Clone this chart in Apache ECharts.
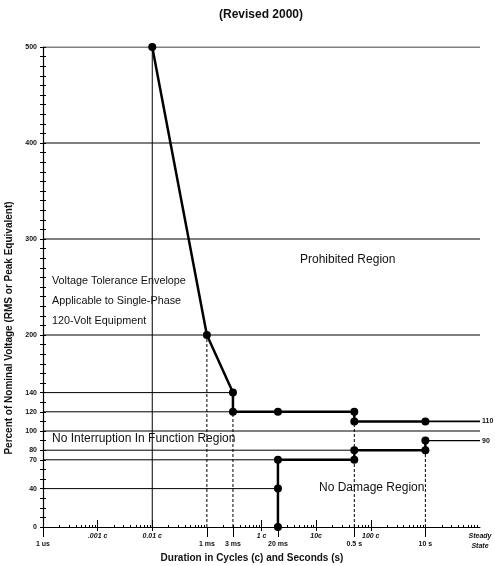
<!DOCTYPE html>
<html>
<head>
<meta charset="utf-8">
<script src="https://cdn.jsdelivr.net/npm/echarts@6/dist/echarts.min.js"></script>
<style>
  html, body { margin: 0; padding: 0; background: #fff; }
  #chart { width: 495px; height: 566px; }
</style>
</head>
<body>
<div id="chart"></div>
<script>
// ITIC voltage tolerance envelope; durations are in seconds, voltages in % of nominal.
const upperT = [1e-4, 1e-3, 3e-3, 3e-3, 0.02, 0.5, 0.5, 10];
const upperV = [500, 200, 140, 120, 120, 120, 110, 110];
const lowerT = [0.02, 0.02, 0.02, 0.5, 0.5, 10, 10];
const lowerV = [0, 40, 70, 70, 80, 80, 90];
const steadyT = 100;
const upperSteady = 110;
const lowerSteady = 90;

// Horizontal reference levels and how far right each one runs
const levelValues = [500, 400, 300, 200, 140, 120, 100, 80, 70, 40];
const levelEnds = [100, 100, 100, 100, 3e-3, 0.5, 100, 10, 0.5, 0.02];
const yTickLabels = [500, 400, 300, 200, 140, 120, 100, 80, 70, 40, 0];

// Vertical drop lines
const solidDropT = 1e-4;
const solidDropTop = 500;
const dashedDropT = [1e-3, 3e-3, 0.5, 10];
const dashedDropTop = [200, 120, 120, 90];

// Axis tick labels
const cycleTicks = [1e-5, 1e-4, 1e-2, 1e-1, 1];
const cycleLabels = ['.001 c', '0.01 c', '1 c', '10c', '100 c'];
const timeTicks = [1e-6, 1e-3, 3e-3, 0.02, 0.5, 10];
const timeLabels = ['1 us', '1 ms', '3 ms', '20 ms', '0.5 s', '10 s'];
const steadyLabel = 'Steady\nState';

const X_MIN = 1e-6, X_MAX = 100;
const INK = '#000';
const FONT = 'Liberation Sans, Arial, sans-serif';

// small log-spaced ticks inside each decade
const minorTicks = [];
for (let e = -6; e < 2; e++) {
  for (let m = 2; m <= 9; m++) minorTicks.push(m * Math.pow(10, e));
}

const zip = (a, b) => a.map((v, i) => [v, b[i]]);

const baseX = {
  type: 'log', logBase: 10, min: X_MIN, max: X_MAX, position: 'bottom',
  gridIndex: 0, splitLine: { show: false }, minorSplitLine: { show: false }
};

const xAxes = [
  Object.assign({}, baseX, {
    axisLine: { show: true, onZero: false, lineStyle: { color: INK, width: 1 } },
    axisTick: { show: true, inside: true, length: 2, customValues: minorTicks, lineStyle: { color: INK } },
    axisLabel: { show: false }
  }),
  Object.assign({}, baseX, {
    axisLine: { show: false },
    axisTick: { show: true, inside: true, length: 7, customValues: cycleTicks, lineStyle: { color: INK } },
    axisLabel: {
      show: true, customValues: cycleTicks.concat([steadyT]), margin: 4,
      fontFamily: FONT, fontSize: 7, fontWeight: 'bold', fontStyle: 'italic', color: '#111', lineHeight: 10,
      formatter: v => {
        if (Math.abs(v - steadyT) / steadyT < 1e-6) return steadyLabel;
        const i = cycleTicks.findIndex(c => Math.abs(v - c) / c < 1e-6);
        return i >= 0 ? cycleLabels[i] : '';
      }
    }
  }),
  Object.assign({}, baseX, {
    axisLine: { show: false },
    axisTick: { show: true, inside: false, length: 4, customValues: cycleTicks, lineStyle: { color: INK } },
    axisLabel: { show: false }
  }),
  Object.assign({}, baseX, {
    axisLine: { show: false },
    axisTick: { show: true, inside: false, length: 10, customValues: timeTicks, lineStyle: { color: INK } },
    axisLabel: {
      show: true, customValues: timeTicks, margin: 14,
      fontFamily: FONT, fontSize: 7, fontWeight: 'bold', color: '#111',
      formatter: v => {
        const i = timeTicks.findIndex(c => Math.abs(v - c) / c < 1e-6);
        return i >= 0 ? timeLabels[i] : '';
      }
    }
  })
];

const baseY = {
  type: 'value', min: 0, max: 500, interval: 10, position: 'left',
  splitLine: { show: false }
};

const yAxes = [
  Object.assign({}, baseY, {
    axisLine: { show: true, onZero: false, lineStyle: { color: INK, width: 1.2 } },
    axisTick: { show: true, inside: false, length: 3, lineStyle: { color: INK } },
    axisLabel: {
      show: true, margin: 6, fontFamily: FONT, fontSize: 7, fontWeight: 'bold', color: '#111',
      formatter: v => (yTickLabels.indexOf(v) >= 0 ? String(v) : '')
    }
  }),
  Object.assign({}, baseY, {
    axisLine: { show: false },
    axisTick: { show: true, inside: true, length: 3, lineStyle: { color: INK } },
    axisLabel: { show: false }
  })
];

const series = [];

// reference levels
levelValues.forEach((v, i) => {
  series.push({
    type: 'line', silent: true, symbol: 'none', z: 1,
    lineStyle: { color: INK, width: 1 },
    data: [[X_MIN, v], [levelEnds[i], v]]
  });
});

// solid drop line
series.push({
  type: 'line', silent: true, symbol: 'none', z: 1,
  lineStyle: { color: INK, width: 1 },
  data: [[solidDropT, 0], [solidDropT, solidDropTop]]
});

// dashed drop lines
dashedDropT.forEach((t, i) => {
  series.push({
    type: 'line', silent: true, symbol: 'none', z: 1,
    lineStyle: { color: INK, width: 1, type: [3, 2] },
    data: [[t, 0], [t, dashedDropTop[i]]]
  });
});

const curveStyle = {
  type: 'line', silent: true, z: 5, symbol: 'circle', symbolSize: 8,
  itemStyle: { color: INK }, lineStyle: { color: INK, width: 2.5 }
};

series.push(Object.assign({}, curveStyle, { data: zip(upperT, upperV) }));
series.push(Object.assign({}, curveStyle, { data: zip(lowerT, lowerV) }));

// steady-state extensions, each tagged with its level at the right end
const endLabel = v => ({
  show: true, formatter: String(v), distance: 2,
  fontFamily: FONT, fontSize: 7, fontWeight: 'bold', color: '#111'
});
series.push({
  type: 'line', silent: true, z: 4, symbol: 'none', clip: false,
  lineStyle: { color: INK, width: 1.8 },
  endLabel: endLabel(upperSteady),
  data: [[upperT[upperT.length - 1], upperSteady], [steadyT, upperSteady]]
});
series.push({
  type: 'line', silent: true, z: 4, symbol: 'none', clip: false,
  lineStyle: { color: INK, width: 1.2 },
  endLabel: endLabel(lowerSteady),
  data: [[lowerT[lowerT.length - 1], lowerSteady], [steadyT, lowerSteady]]
});

const txt = (x, y, text, size, extra) => ({
  type: 'text', x, y, z: 10, silent: true,
  style: Object.assign({ text, fontFamily: FONT, fontSize: size, fill: '#111', align: 'left', verticalAlign: 'middle' }, extra || {})
});

const chart = echarts.init(document.getElementById('chart'), null, { renderer: 'canvas' });
chart.setOption({
  animation: false,
  backgroundColor: '#fff',
  grid: { left: 43, right: 15, top: 47, bottom: 39, containLabel: false, outerBoundsMode: 'none' },
  xAxis: xAxes,
  yAxis: yAxes,
  series,
  graphic: [
    txt(261, 15, '(Revised 2000)', 12, { fontWeight: 'bold', align: 'center' }),
    txt(300, 260, 'Prohibited Region', 12),
    txt(52, 281, 'Voltage Tolerance Envelope', 10.8),
    txt(52, 301, 'Applicable to Single-Phase', 10.8),
    txt(52, 321, '120-Volt Equipment', 10.8),
    txt(52, 439, 'No Interruption In Function Region', 12),
    txt(319, 488, 'No Damage Region', 12),
    txt(252, 558, 'Duration in Cycles (c) and Seconds (s)', 10, { fontWeight: 'bold', align: 'center' }),
    {
      type: 'text', x: 9, y: 328, rotation: Math.PI / 2, z: 10, silent: true,
      style: { text: 'Percent of Nominal Voltage (RMS or Peak Equivalent)', fontFamily: FONT, fontSize: 10,
               fontWeight: 'bold', fill: '#111', align: 'center', verticalAlign: 'middle' }
    }
  ]
});
</script>
</body>
</html>
